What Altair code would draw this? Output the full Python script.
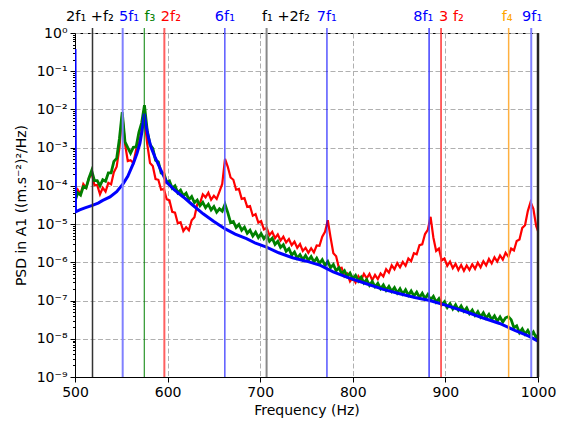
import altair as alt
import pandas as pd

# ---------------- data ----------------
# common frequency grid (Hz) for the two measured spectra
freq = [500, 503, 506, 509, 512, 515, 518, 521, 524, 527, 530, 533, 536, 539, 542, 545, 548, 551, 554, 557,
        560, 563, 566, 569, 572, 575, 578, 581, 584, 587, 590, 593, 596, 599, 602, 605, 608, 611, 614, 617,
        620, 623, 626, 629, 632, 635, 638, 641, 644, 647, 650, 653, 656, 659, 662, 665, 668, 671, 674, 677,
        680, 683, 686, 689, 692, 695, 698, 701, 704, 707, 710, 713, 716, 719, 722, 725, 728, 731, 734, 737,
        740, 743, 746, 749, 752, 755, 758, 761, 764, 767, 770, 773, 776, 779, 782, 785, 788, 791, 794, 797,
        800, 803, 806, 809, 812, 815, 818, 821, 824, 827, 830, 833, 836, 839, 842, 845, 848, 851, 854, 857,
        860, 863, 866, 869, 872, 875, 878, 881, 884, 887, 890, 893, 896, 899, 902, 905, 908, 911, 914, 917,
        920, 923, 926, 929, 932, 935, 938, 941, 944, 947, 950, 953, 956, 959, 962, 965, 968, 971, 974, 977,
        980, 983, 986, 989, 992, 995, 998, 1000]

# log10 of PSD, red measurement
red_log = [-4.30, -4.10, -4.22, -3.95, -4.05, -3.80, -3.66, -3.98, -3.98, -4.22, -4.05, -4.15, -3.92, -3.96, -3.64, -3.50, -3.00, -2.11, -2.90, -3.35,
           -3.33, -3.40, -3.05, -2.90, -2.55, -2.24, -2.90, -3.40, -3.48, -3.82, -3.84, -4.10, -4.08, -4.35, -4.38, -4.68, -4.70, -4.98, -4.95, -5.18,
           -5.08, -5.16, -4.90, -4.82, -4.48, -4.45, -4.22, -4.30, -4.18, -4.36, -4.26, -4.34, -4.15, -3.95, -3.29, -3.50, -3.78, -3.84, -4.10, -4.08,
           -4.34, -4.32, -4.55, -4.53, -4.78, -4.74, -4.96, -4.92, -5.14, -5.10, -5.29, -5.20, -5.37, -5.27, -5.43, -5.33, -5.48, -5.39, -5.55, -5.46,
           -5.62, -5.52, -5.70, -5.62, -5.75, -5.63, -5.74, -5.56, -5.57, -5.33, -5.20, -4.90, -5.35, -5.76, -5.84, -6.15, -6.14, -6.37, -6.30, -6.50,
           -6.40, -6.53, -6.36, -6.47, -6.30, -6.42, -6.30, -6.47, -6.33, -6.44, -6.29, -6.37, -6.18, -6.27, -6.08, -6.18, -6.02, -6.13, -5.99, -6.09,
           -5.90, -5.97, -5.76, -5.79, -5.55, -5.53, -5.26, -5.15, -4.81, -5.35, -5.70, -5.64, -5.95, -5.90, -6.09, -5.98, -6.15, -6.04, -6.20, -6.07,
           -6.22, -6.08, -6.20, -6.05, -6.17, -6.01, -6.13, -5.97, -6.08, -5.91, -6.03, -5.87, -5.98, -5.82, -5.93, -5.75, -5.85, -5.64, -5.69, -5.44,
           -5.40, -5.10, -5.03, -4.66, -4.42, -4.60, -5.05, -5.18]

# log10 of PSD, green measurement
green_log = [-4.40, -4.18, -4.24, -4.02, -4.05, -3.80, -3.60, -3.86, -3.86, -4.00, -3.84, -3.88, -3.66, -3.66, -3.36, -3.28, -2.76, -2.07, -2.85, -3.00,
             -3.14, -2.99, -2.98, -2.60, -2.35, -1.89, -2.55, -2.92, -3.02, -3.33, -3.37, -3.66, -3.67, -3.91, -3.87, -4.06, -4.00, -4.18, -4.11, -4.26,
             -4.19, -4.36, -4.28, -4.44, -4.37, -4.52, -4.43, -4.57, -4.48, -4.63, -4.54, -4.69, -4.60, -4.66, -4.48, -4.70, -4.96, -4.93, -5.09, -5.01,
             -5.16, -5.08, -5.24, -5.16, -5.31, -5.21, -5.35, -5.25, -5.38, -5.29, -5.45, -5.37, -5.53, -5.45, -5.61, -5.54, -5.71, -5.64, -5.81, -5.73,
             -5.89, -5.80, -5.93, -5.82, -5.95, -5.85, -5.99, -5.89, -6.03, -5.93, -6.08, -5.98, -6.14, -6.06, -6.22, -6.14, -6.30, -6.22, -6.37, -6.28,
             -6.43, -6.34, -6.49, -6.39, -6.54, -6.45, -6.60, -6.50, -6.64, -6.55, -6.69, -6.59, -6.73, -6.63, -6.76, -6.66, -6.80, -6.69, -6.83, -6.72,
             -6.86, -6.75, -6.88, -6.78, -6.92, -6.81, -6.95, -6.84, -6.98, -6.89, -7.04, -6.95, -7.11, -7.03, -7.18, -7.08, -7.22, -7.11, -7.25, -7.14,
             -7.28, -7.19, -7.34, -7.25, -7.39, -7.29, -7.43, -7.32, -7.46, -7.36, -7.50, -7.40, -7.54, -7.43, -7.56, -7.45, -7.42, -7.50, -7.71, -7.66,
             -7.84, -7.74, -7.88, -7.78, -7.92, -7.82, -7.97, -7.90]

# model spectrum (blue), smooth
blue_freq = [500, 500.5, 505, 510, 518.7, 525, 530, 537.8, 545, 552.1, 557, 562.9, 567, 570.1, 572.5, 574.8, 576.5,
             579.1, 582, 586.3, 592, 598.9, 607, 616.9, 627, 638.4, 650, 661.8, 673, 685.2, 695, 706.8, 720, 735,
             750, 765, 778.8, 795, 814.7, 832, 850.7, 867, 883.1, 900, 922.7, 940, 958.6, 975, 990, 1000]
blue_log = [-0.42, -4.68, -4.63, -4.58, -4.51, -4.45, -4.38, -4.29, -4.15, -3.94, -3.75, -3.42, -3.15, -2.89, -2.55, -2.11, -2.40,
            -2.72, -2.98, -3.24, -3.55, -3.90, -4.10, -4.29, -4.50, -4.73, -4.93, -5.12, -5.26, -5.38, -5.50, -5.60, -5.75, -5.88,
            -5.97, -6.08, -6.25, -6.40, -6.56, -6.70, -6.82, -6.92, -7.00, -7.12, -7.30, -7.45, -7.60, -7.78, -7.93, -8.06]

# characteristic frequencies (vertical lines) and their labels
line_freq = [518.9, 551.5, 574.8, 596.5, 661.8, 706.9, 772.1, 882.4, 895.3, 968.3, 992.7]
line_label = ["2f\u2081 +f\u2082", "5f\u2081", "f\u2083", "2f\u2082", "6f\u2081", "f\u2081 +2f\u2082",
              "7f\u2081", "8f\u2081", "3 f\u2082", "f\u2084", "9f\u2081"]
label_freq = [516.2, 558.3, 580.9, 603.6, 661.9, 727.7, 771.9, 876.1, 906.5, 966.7, 993.7]
line_color = ["#333333", "#8080ff", "#008000", "#ff6060", "#5a5aff", "#888888", "#0000ff", "#4040ff", "#ff3030", "#ffb040", "#8080ff"]
line_width = [1.5, 2, 1, 2, 1.5, 2, 1, 1.5, 1.5, 1.5, 2]
label_color = ["#000000", "#0000ff", "#008000", "#ff0000", "#0000ff", "#000000", "#0000ff", "#0000ff", "#ff0000", "#ffa500", "#0000ff"]

# ---------------- build tables ----------------
df_red = pd.DataFrame({"f": freq, "psd": [10 ** v for v in red_log]})
df_green = pd.DataFrame({"f": freq, "psd": [10 ** v for v in green_log]})
df_blue = pd.DataFrame({"f": blue_freq, "psd": [10 ** v for v in blue_log]})
df_lines = pd.DataFrame({"f": line_freq, "c": line_color, "w": line_width})
df_labels = pd.DataFrame({"f": label_freq, "t": line_label, "c": label_color})

W, H = 463, 344
FONT = "DejaVu Sans"

decade = "abs(log(datum.value)/LN10 - round(log(datum.value)/LN10)) < 1e-6"
sup = "['10\u2070','10\u207b\u00b9','10\u207b\u00b2','10\u207b\u00b3','10\u207b\u2074','10\u207b\u2075','10\u207b\u2076','10\u207b\u2077','10\u207b\u2078','10\u207b\u2079']"
label_expr = f"({decade}) ? {sup}[-round(log(datum.value)/LN10)] : ''"

y_ticks = [m * 10.0 ** e for e in range(-9, 0) for m in range(1, 10)] + [1.0]

x_enc = alt.X("f:Q", scale=alt.Scale(domain=[500, 1000], nice=False, zero=False),
              axis=alt.Axis(values=[500, 600, 700, 800, 900, 1000], format="d", labelFlush=False,
                            title="Frequency (Hz)",
                            grid=True, gridColor="#b0b0b0", gridDash=[5, 2.5], gridWidth=1,
                            tickSize=5, labelPadding=3, titlePadding=4))
y_enc = alt.Y("psd:Q", scale=alt.Scale(type="log", domain=[1e-9, 1], nice=False),
              axis=alt.Axis(values=y_ticks, labelExpr=label_expr, labelFlush=False,
                            title="PSD in A1 ((m.s\u207b\u00b2)\u00b2/Hz)",
                            grid=True, gridColor="#b0b0b0", gridDash=[5, 2.5], gridWidth=1,
                            gridOpacity={"condition": {"test": decade, "value": 1}, "value": 0},
                            tickSize={"condition": {"test": decade, "value": 5}, "value": 2.5},
                            labelPadding=3, titlePadding=8))

red = alt.Chart(df_red).mark_line(color="#ff0000", strokeWidth=2.2, clip=True).encode(x=x_enc, y=y_enc)
green = alt.Chart(df_green).mark_line(color="#008000", strokeWidth=2.8, clip=True).encode(x="f:Q", y="psd:Q")
blue = alt.Chart(df_blue).mark_line(color="#0000ff", strokeWidth=3, clip=True).encode(x="f:Q", y="psd:Q")

rules = alt.Chart(df_lines).mark_rule().encode(
    x="f:Q",
    y=alt.value(-5), y2=alt.value(H),
    color=alt.Color("c:N", scale=None),
    size=alt.Size("w:Q", scale=None),
)

labels = alt.Chart(df_labels).mark_text(fontSize=14.5, font=FONT, baseline="alphabetic", align="center").encode(
    x="f:Q", y=alt.value(-12), text="t:N", color=alt.Color("c:N", scale=None)
)

right_edge = alt.Chart(pd.DataFrame({"f": [1000]})).mark_rule(color="#222222", strokeWidth=2.5).encode(
    x="f:Q", y=alt.value(0), y2=alt.value(H)
)

chart = alt.layer(red, green, blue, rules, labels, right_edge).properties(
    width=W, height=H,
    autosize=alt.AutoSizeParams(type="none"),
    padding={"left": 67, "top": 25, "right": 19, "bottom": 41},
).configure_view(stroke="#000000", strokeWidth=1).configure_axis(
    labelFont=FONT, titleFont=FONT, labelFontSize=14, titleFontSize=14, titleFontWeight="normal",
    labelColor="#000000", titleColor="#000000", domainColor="#000000", tickColor="#000000",
    domainWidth=1, tickWidth=1,
)

chart.save("out.html", embed_options={"renderer": "svg", "actions": False})
